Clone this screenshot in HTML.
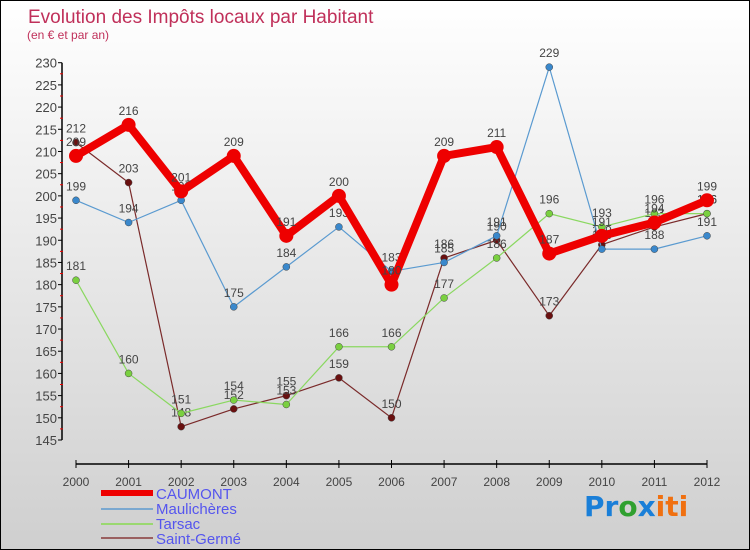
<!DOCTYPE html>
<html><head><meta charset="utf-8"><style>
body{margin:0}
#wrap{position:relative;width:748px;height:548px;border:1px solid #000;background:linear-gradient(#fff,#cfcfcf);font-family:"Liberation Sans",sans-serif;overflow:hidden}
svg{position:absolute;left:0;top:0}
</style></head><body>
<div id="wrap">
<svg id="chart" width="750" height="550">
<text x="27" y="22" font-size="19" fill="#c0305a">Evolution des Impôts locaux par Habitant</text>
<text x="26" y="38" font-size="12" fill="#c0305a">(en € et par an)</text>
<g id="axes"></g><g id="series"></g>
<g>
<rect x="100" y="489" width="52" height="6" fill="#e00"/>
<text x="155" y="498" font-size="15" fill="#5555ee">CAUMONT</text>
<line x1="100" y1="508" x2="152" y2="508" stroke="#7aa8d0" stroke-width="2"/>
<text x="155" y="513" font-size="15" fill="#5555ee">Maulichères</text>
<line x1="100" y1="523" x2="152" y2="523" stroke="#9ad870" stroke-width="2"/>
<text x="155" y="528" font-size="15" fill="#5555ee">Tarsac</text>
<line x1="100" y1="537" x2="152" y2="537" stroke="#9a6060" stroke-width="2"/>
<text x="155" y="543" font-size="15" fill="#5555ee">Saint-Germé</text>
</g>
<g font-size="28" font-family="DejaVu Sans, sans-serif" font-weight="bold">
<text x="583" y="515"><tspan fill="#1a7fd8">Pr</tspan><tspan fill="#30a030">o</tspan><tspan fill="#1a7fd8">x</tspan><tspan fill="#f07010">iti</tspan></text>
</g>
</svg>
</div>
<script>
const years=["2000","2001","2002","2003","2004","2005","2006","2007","2008","2009","2010","2011","2012"];
const yTicks=[145,150,155,160,165,170,175,180,185,190,195,200,205,210,215,220,225,230];
const caumont=[209,216,201,209,191,200,180,209,211,187,191,194,199];
const maulicheres=[199,194,199,175,184,193,183,185,191,229,188,188,191];
const tarsac=[181,160,151,154,153,166,166,177,186,196,193,196,196];
const saintGerme=[212,203,148,152,155,159,150,186,190,173,189,193,196];
const NS="http://www.w3.org/2000/svg";
const x=i=>75+i*(706-75)/(years.length-1);
const y=v=>439-(v-145)*(439-61.7)/(230-145);
function mk(t,a,p){const e=document.createElementNS(NS,t);for(const k in a)e.setAttribute(k,a[k]);p.appendChild(e);return e;}
const ax=document.getElementById('axes');
let l=mk('line',{x1:61,y1:y(230),x2:61,y2:y(145),stroke:'#000','stroke-width':1.5},ax);


yTicks.forEach((v,i)=>{
 mk('line',{x1:57,x2:61,y1:y(v),y2:y(v),stroke:'#000'},ax);
 if(i<yTicks.length-1)mk('line',{x1:59,x2:62,y1:y(v+2.5),y2:y(v+2.5),stroke:'#e00'},ax);
 const t=mk('text',{x:56,y:y(v)+5,'text-anchor':'end','font-size':13,fill:'#444'},ax);t.textContent=v;
 
 
});
l=mk('line',{x1:75,y1:463,x2:706,y2:463,stroke:'#000','stroke-width':1.5},ax);


years.forEach((yr,i)=>{
 mk('line',{x1:x(i),x2:x(i),y1:459,y2:467,stroke:'#000'},ax);
 const t=mk('text',{x:x(i),y:485,'text-anchor':'middle','font-size':12,fill:'#444'},ax);t.textContent=yr;
 
 
});
const sg=document.getElementById('series');
function draw(data,name,color,w,r,dot,lbl){
 const g=mk('g',{},sg);
 
 
 const pl=mk('polyline',{points:data.map((v,i)=>x(i)+','+y(v)).join(' '),fill:'none',stroke:color,'stroke-width':w,'stroke-linejoin':'round'},g);
 
 
 data.forEach((v,i)=>{
  const c=mk('circle',{cx:x(i),cy:y(v),r:r,fill:dot,stroke:lbl?'none':'#444','stroke-width':0.5},g);
  
  
  const t=mk('text',{x:x(i),y:y(v)-10,'text-anchor':'middle','font-size':12,fill:'#444'},g);t.textContent=v;
  
  
 });
}
draw(saintGerme,'saint-germe','#7a2a2a',1.2,3.5,'#6a1010',false);
draw(tarsac,'tarsac','#8ad860',1.2,3.5,'#7ad040',false);
draw(maulicheres,'maulicheres','#5a9ad0',1.2,3.5,'#3a88cc',false);
draw(caumont,'caumont','#ee0000',8,7,'#ee0000',true);
</script>
</body></html>
